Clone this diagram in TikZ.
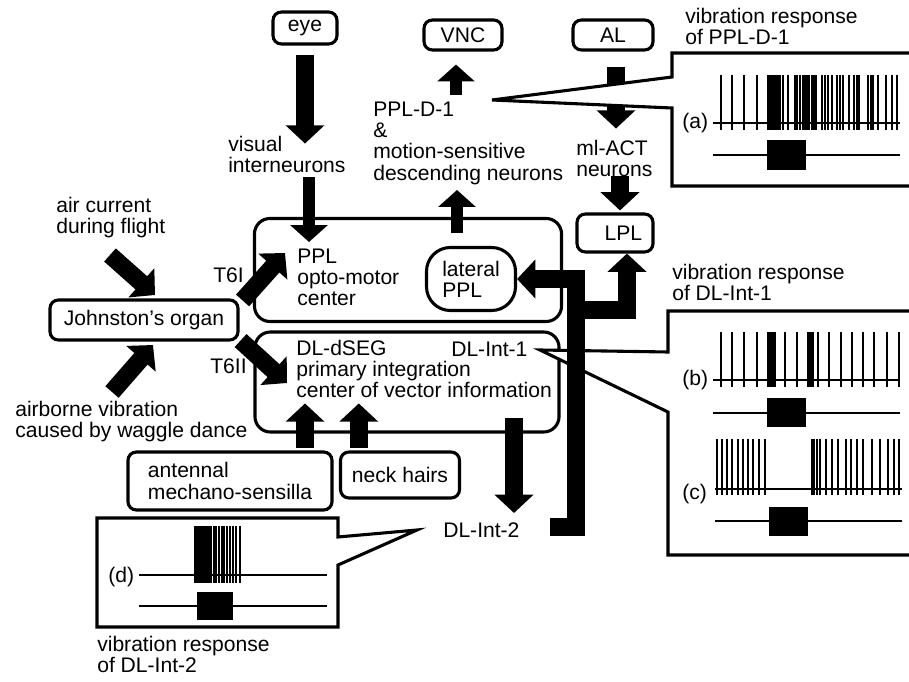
\documentclass[tikz,border=0pt]{standalone}
\usepackage{fontspec}
\setmainfont{Liberation Sans}
\usetikzlibrary{arrows.meta, positioning}

\begin{document}
\begin{tikzpicture}[x=0.025cm, y=-0.025cm, font=\fontsize{15}{15}\selectfont]
    \tikzset{
      box/.style={draw, line width=2.2pt, rounded corners=6pt, inner sep=0pt},
      region/.style={draw, line width=2.2pt, rounded corners=11pt, inner sep=0pt},
      txt/.style={anchor=north west, inner sep=0pt, align=left},
      fat/.style={line width=12.5pt, -{Triangle[width=27pt, length=13pt]}},
      slim/.style={line width=8.5pt, -{Triangle[width=26pt, length=12pt]}},
      callout/.style={draw, line width=2.2pt, fill=white, line join=miter},
      spike/.style={line width=0.9pt},
      trace/.style={line width=1pt}
    }
    \useasboundingbox (0,0) rectangle (909,682);
    \clip (0,0) rectangle (909,682);

    % boxes
    \node[box, minimum width=1.6cm, minimum height=0.8cm] (eye) at (305,28) {eye};
    \node[box, minimum width=1.95cm, minimum height=0.75cm] (vnc) at (463,35) {VNC};
    \node[box, minimum width=2cm, minimum height=0.75cm] (al) at (613,35) {AL};
    \node[box, minimum width=4.7cm, minimum height=1cm] (jo) at (144,320) {Johnston’s organ};
    \node[region, minimum width=7.675cm, minimum height=2.575cm] (ppl) at (408,270) {};
    \node[region, minimum width=7.6cm, minimum height=2.5cm] (dlseg) at (407,382) {};
    \node[box, rounded corners=17pt, align=left, minimum width=2.225cm, minimum height=1.575cm]
      (latppl) at (471,279) {lateral\\PPL};
    \node[box, minimum width=1.9cm, minimum height=0.95cm] (lpl) at (615,233) {\hspace{12pt}LPL};
    \node[box, align=left, minimum width=5.1cm, minimum height=1.45cm]
      (antenna) at (230,481) {antennal\\mechano-sensilla};
    \node[box, minimum width=2.975cm, minimum height=1.15cm] (neck) at (400,475) {neck hairs};

    % labels
    \node[txt] (vis) at (228,136) {visual\\interneurons};
    \node[txt] (ppld) at (373,102) {PPL-D-1\\\&\\motion-sensitive\\descending neurons};
    \node[txt] (mlact) at (576,140) {ml-ACT\\neurons};
    \node[txt] (air) at (56,197) {air current\\during flight};
    \node[txt] (waggle) at (15,401) {airborne vibration\\caused by waggle dance};
    \node[txt] (t6i) at (213,267) {T6I};
    \node[txt] (t6ii) at (210,358) {T6II};
    \node[txt] (pplt) at (297,249) {PPL\\opto-motor\\center};
    \node[txt] (dlt) at (296,340) {DL-dSEG\\primary integration\\center of vector information};
    \node[txt] (int1) at (451,342) {DL-Int-1};
    \node[txt] (int2) at (443,522) {DL-Int-2};
    \node[txt] (vra) at (685,8) {vibration response\\of PPL-D-1};
    \node[txt] (vrb) at (672,264) {vibration response\\of DL-Int-1};
    \node[txt] (vrd) at (97,636) {vibration response\\of DL-Int-2};

    % free ends
    \coordinate (visout) at (309,177);
    \coordinate (pplin) at (309,242);
    \coordinate (pplout) at (457,233);
    \coordinate (ppldin) at (457,190);
    \coordinate (dlout) at (514,418);
    \coordinate (int2in) at (514,513);
    \coordinate (airout) at (110,255);
    \coordinate (join1) at (155,295);
    \coordinate (waggleout) at (112,392);
    \coordinate (join2) at (153,345);
    \coordinate (pplT) at (285,253);
    \coordinate (dlT) at (287,383);
    \coordinate (foot) at (550,527);

    % arrows
    \draw[fat] (eye.south) ++(0,9) -- ++(0,89);
    \draw[slim] (visout) -- (pplin);
    \draw[slim] (pplout) -- (ppldin);
    \draw[slim] ([xshift=-0.175cm]vnc.south) ++(0,43) -- ++(0,-30);
    \draw[fat] (al.south) ++(3,15) -- ++(0,62);
    \draw[fat] ([xshift=0.125cm]lpl.north) ++(0,-36) -- ([xshift=0.125cm, yshift=0.05cm]lpl.north);
    \draw[fat] (dlout) -- (int2in);
    \draw[fat] ([xshift=1.875cm]antenna.north) ++(0,-2) -- ++(0,-45);
    \draw[fat] ([xshift=-1.03cm]neck.north) ++(0,-2) -- ++(0,-45);
    \draw[fat] (airout) -- (join1);
    \draw[fat] (waggleout) -- (join2);
    \draw[fat] ([shift={(3,2)}]jo.north east) -- (pplT);
    \draw[fat] ([shift={(1,-1)}]jo.south east) -- (dlT);

    % (a)
    \draw[callout] (672,53) -- (912,53) -- (912,186) -- (672,186) -- (672,108)
      -- (492,100) -- (672,77) -- cycle;
    \node[txt] (la) at (682,113) {(a)};
    \draw[trace] (713,123) -- (900,123);
    \foreach \x in {721,732,744,757,768,769.5,771,772.5,774,775,776.5,778,780,783,788,
      795,797,800,803,805,807,809,812,814,816,822,825,828,832,837,840,843,849,854,857,
      859,868,871,873,878,886,892,897}
      \draw[spike] (\x,75) -- (\x,130);
    \draw[trace] (713,155) -- (900,155);
    \fill (767,140) rectangle (806,170);

    % (b) and (c)
    \draw[callout] (668,311) -- (912,311) -- (912,555) -- (668,555) -- (668,412)
      -- (540,350) -- (668,352) -- cycle;
    \node[txt] (lb) at (682,370) {(b)};
    \draw[trace] (713,380) -- (900,380);
    \foreach \x in {721,732,744,757,768,770,772,773,775,785,797,808,810,812,813,818,
      829,841,852,863,874,887,899}
      \draw[spike] (\x,332) -- (\x,387);
    \draw[trace] (713,413) -- (900,413);
    \fill (767,398) rectangle (806,427);
    \node[txt] (lc) at (682,484) {(c)};
    \draw[trace] (715,489) -- (902,489);
    \foreach \x in {717,722,727,732,738,743,748,753,759,765,812,814,817,820,826,832,
      838,846,851,857,863,872,880,888,894,899}
      \draw[spike] (\x,439) -- (\x,495);
    \draw[trace] (715,521) -- (902,521);
    \fill (769,507) rectangle (808,536);

    % bar to lateral PPL and LPL
    \draw[fat, line join=miter] (foot) -- (576,527) -- (576,279) -- (latppl.east);
    \draw[fat, line join=miter] (576,310) -| ([xshift=0.3cm]lpl.south);

    % (d)
    \draw[callout] (97,518) -- (338,518) -- (338,537) -- (417,530) -- (338,565)
      -- (338,627) -- (97,627) -- cycle;
    \node[txt] (ld) at (108,567) {(d)};
    \draw[trace] (139,575) -- (327,575);
    \foreach \x in {195,197,199,201,203,205,207,209,211,214,216,219,222,224,227,230,
      233,236,240}
      \draw[spike] (\x,526) -- (\x,583);
    \draw[trace] (139,606) -- (327,606);
    \fill (197,592) rectangle (233,620);
  \end{tikzpicture}
\end{document}
